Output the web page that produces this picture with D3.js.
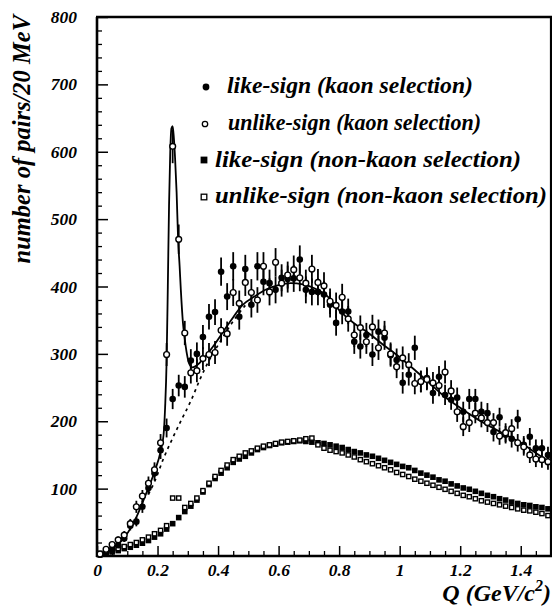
<!DOCTYPE html>
<html><head><meta charset="utf-8">
<script src="https://cdn.jsdelivr.net/npm/d3@7/dist/d3.min.js"></script>
<style>
html,body{margin:0;padding:0;background:#fff;}
</style></head>
<body>
<svg id="chart" width="552" height="607"></svg>
<script>
const FONT = "'Liberation Serif', 'Times New Roman', Times, 'DejaVu Serif', serif";
// ---- data ----
const qBins = [0.01,0.03,0.05,0.07,0.09,0.11,0.13,0.15,0.17,0.19,0.21,0.23,0.25,0.27,0.29,0.31,0.33,0.35,0.37,0.39,
0.41,0.43,0.45,0.47,0.49,0.51,0.53,0.55,0.57,0.59,0.61,0.63,0.65,0.67,0.69,0.71,0.73,0.75,0.77,0.79,
0.81,0.83,0.85,0.87,0.89,0.91,0.93,0.95,0.97,0.99,1.01,1.03,1.05,1.07,1.09,1.11,1.13,1.15,1.17,1.19,
1.21,1.23,1.25,1.27,1.29,1.31,1.33,1.35,1.37,1.39,1.41,1.43,1.45,1.47,1.49];

const likeKaon = [2,6,10,16,26,45,51,73,101,123,157,190,233,253,251,290,300,325,355,362,
422,385,430,355,426,373,430,407,405,395,413,411,412,440,395,392,392,388,373,346,
363,363,318,311,328,299,333,324,298,291,257,269,309,259,264,242,266,239,232,235,
214,233,233,214,212,184,206,180,174,203,165,177,160,160,150];
const likeKaonErr = [1,2,3,4,5,7,7,9,10,11,13,14,15,16,16,17,17,18,19,19,
21,20,21,19,21,19,21,20,20,20,20,20,20,21,20,20,20,20,19,19,
19,19,18,18,18,17,18,18,17,17,16,16,18,16,16,16,16,15,15,15,
15,15,15,15,15,14,14,13,13,14,13,13,13,13,12];

const unlikeKaon = [3,10,17,24,31,48,73,89,108,128,168,299,608,470,331,272,275,293,299,302,
335,330,391,375,406,391,380,430,392,436,405,417,425,413,405,426,406,401,378,372,
384,352,328,339,318,340,309,331,300,281,294,284,256,259,262,257,253,273,245,214,
192,198,212,205,198,198,178,183,189,168,162,150,144,143,140];
const unlikeKaonErr = [2,3,4,5,6,7,9,9,10,11,13,17,25,22,18,16,17,17,17,17,
18,18,20,19,20,20,19,21,20,21,20,20,21,20,20,21,20,20,19,19,
20,19,18,18,18,18,18,18,17,17,17,17,16,16,16,16,16,17,16,15,
14,14,15,14,14,14,13,14,14,13,13,12,12,12,12];

const likeNonKaon = [2,4,6,8,11,13,16,19,23,28,33,40,48,57,66,74,83,95,106,115,
123,131,139,144,148,153,158,161,164,166,168,169,170,171,170,169,168,167,165,163,
161,158,155,153,150,148,145,142,139,136,133,131,127,123,120,117,113,111,107,104,
101,99,96,93,90,88,85,83,80,78,76,75,73,72,70];

const unlikeNonKaon = [4,6,8,11,14,17,20,24,28,33,38,45,86,86,72,78,86,97,108,118,
127,135,143,148,153,156,160,163,165,167,169,170,171,172,174,175,165,160,157,155,
153,150,147,143,140,137,134,131,128,124,121,118,114,111,108,105,102,99,96,93,
90,88,85,82,80,78,76,74,72,70,68,67,65,63,60];

// fit curves
const fitQ = [0,0.04,0.08,0.12,0.16,0.19,0.21,0.22,0.225,0.23,0.234,0.238,0.242,0.246,0.25,0.254,0.258,0.263,0.268,0.273,
0.277,0.284,0.29,0.297,0.305,0.315,0.33,0.35,0.39,0.44,0.48,0.52,0.56,0.6,0.64,0.68,0.72,0.76,0.8,0.85,
0.9,0.95,1.0,1.05,1.1,1.15,1.2,1.25,1.3,1.35,1.4,1.45,1.5];
const fitVal = [0,8,22,48,90,125,155,180,220,290,400,520,600,635,638,620,590,540,470,430,
395,346,322,300,285,280,283,292,315,348,372,385,396,402,405,403,397,386,365,345,
330,312,295,276,256,236,220,205,192,180,168,153,138];
const bgQ = [0.17,0.19,0.22,0.25,0.28,0.31,0.34,0.37,0.40,0.43,0.46,0.49];
const bgVal = [92,110,145,175,203,230,262,290,313,335,355,372];

const xMajorTicks = [0,0.2,0.4,0.6,0.8,1,1.2,1.4];
const xTickLabels = ["0","0.2","0.4","0.6","0.8","1","1.2","1.4"];
const yMajorTicks = [100,200,300,400,500,600,700,800];
const yTickLabels = ["100","200","300","400","500","600","700","800"];

const legendLabels = ["like-sign (kaon selection)","unlike-sign (kaon selection)",
  "like-sign (non-kaon selection)","unlike-sign (non-kaon selection)"];

// ---- chart ----
const svg = d3.select("#chart");
const x = d3.scaleLinear().domain([0,1.5]).range([97,551]);
const y = d3.scaleLinear().domain([0,800]).range([556,17]);

const xMinor = d3.range(0.05,1.5,0.05).filter(v => Math.abs(v/0.2 - Math.round(v/0.2))>1e-6);
const yMinor = d3.range(20,800,20).filter(v => v%100!==0);

function styleText(sel, size){
  return sel.attr("font-family",FONT).attr("font-weight","bold").attr("font-style","italic")
     .attr("font-size",size).attr("fill","#000");
}

// minor ticks
svg.append("g").attr("transform","translate(0,556)")
  .call(d3.axisBottom(x).tickValues(xMinor).tickSize(-5).tickFormat(""))
  .call(g=>g.select(".domain").remove())
  .call(g=>g.selectAll("line").attr("stroke","#000").attr("stroke-width",1.3));
svg.append("g").attr("transform","translate(97,0)")
  .call(d3.axisLeft(y).tickValues(yMinor).tickSize(-5).tickFormat(""))
  .call(g=>g.select(".domain").remove())
  .call(g=>g.selectAll("line").attr("stroke","#000").attr("stroke-width",1.3));
// major ticks
svg.append("g").attr("transform","translate(0,556)")
  .call(d3.axisBottom(x).tickValues(xMajorTicks).tickSize(-10).tickPadding(8)
    .tickFormat((d,i)=>xTickLabels[i]))
  .call(g=>g.select(".domain").remove())
  .call(g=>g.selectAll("line").attr("stroke","#000").attr("stroke-width",1.5))
  .call(g=>styleText(g.selectAll("text"),17.5));
svg.append("g").attr("transform","translate(97,0)")
  .call(d3.axisLeft(y).tickValues(yMajorTicks).tickSize(-11).tickPadding(20)
    .tickFormat((d,i)=>yTickLabels[i]))
  .call(g=>g.select(".domain").remove())
  .call(g=>g.selectAll("line").attr("stroke","#000").attr("stroke-width",1.5))
  .call(g=>styleText(g.selectAll("text"),17.5));

// frame
const frame = svg.append("g").attr("stroke","#000").attr("fill","none");
frame.append("line").attr("x1",97).attr("x2",97).attr("y1",17).attr("y2",557).attr("stroke-width",2.6);
frame.append("line").attr("x1",96).attr("x2",552).attr("y1",556).attr("y2",556).attr("stroke-width",2.6);
frame.append("line").attr("x1",96).attr("x2",552).attr("y1",17).attr("y2",17).attr("stroke-width",2.6);
frame.append("line").attr("x1",551).attr("x2",551).attr("y1",17).attr("y2",557).attr("stroke-width",2.2);

// fit curves
const fitPts = fitQ.map((q,i)=>[q,fitVal[i]]);
const bgPts = bgQ.map((q,i)=>[q,bgVal[i]]);
const lineGen = d3.line().x(d=>x(d[0])).y(d=>y(d[1])).curve(d3.curveMonotoneX);
svg.append("path").datum(bgPts).attr("d",lineGen)
  .attr("fill","none").attr("stroke","#000").attr("stroke-width",1.7).attr("stroke-dasharray","3,4");
svg.append("path").datum(fitPts).attr("d",lineGen)
  .attr("fill","none").attr("stroke","#000").attr("stroke-width",1.8);

// non-kaon squares
const sq = 5.6;
svg.append("g").selectAll("rect").data(qBins.map((q,i)=>[q,likeNonKaon[i]])).join("rect")
  .attr("x",d=>x(d[0])-sq/2).attr("y",d=>y(d[1])-sq/2).attr("width",sq).attr("height",sq).attr("fill","#000");
svg.append("g").selectAll("rect").data(qBins.map((q,i)=>[q,unlikeNonKaon[i]])).join("rect")
  .attr("x",d=>x(d[0])-sq/2+0.7).attr("y",d=>y(d[1])-sq/2+0.7).attr("width",sq-1.4).attr("height",sq-1.4)
  .attr("fill","#fff").attr("stroke","#000").attr("stroke-width",1.4);

// kaon error bars
function errBars(vals, errs){
  svg.append("g").selectAll("line").data(qBins.map((q,i)=>[q,vals[i],errs[i]])).join("line")
    .attr("x1",d=>x(d[0])).attr("x2",d=>x(d[0]))
    .attr("y1",d=>y(d[1]-d[2])).attr("y2",d=>y(Math.min(800,d[1]+d[2])))
    .attr("stroke","#000").attr("stroke-width",1.8);
}
errBars(likeKaon, likeKaonErr);
errBars(unlikeKaon, unlikeKaonErr);

svg.append("g").selectAll("circle").data(qBins.map((q,i)=>[q,likeKaon[i]])).join("circle")
  .attr("cx",d=>x(d[0])).attr("cy",d=>y(d[1])).attr("r",3.3).attr("fill","#000");
svg.append("g").selectAll("circle").data(qBins.map((q,i)=>[q,unlikeKaon[i]])).join("circle")
  .attr("cx",d=>x(d[0])).attr("cy",d=>y(d[1])).attr("r",2.9).attr("fill","#fff")
  .attr("stroke","#000").attr("stroke-width",1.4);

// legend
const leg = svg.append("g");
const legRows = [
  {ty:93, tx:227, w:246, mx:206, my:87, type:"fc"},
  {ty:130, tx:228, w:253, mx:205, my:124, type:"oc"},
  {ty:167, tx:215, w:306, mx:204, my:160, type:"fs"},
  {ty:203, tx:215, w:332, mx:204, my:197, type:"os"}];
legRows.forEach((r,i)=>{
  if(r.type==="fc") leg.append("circle").attr("cx",r.mx).attr("cy",r.my).attr("r",3.4).attr("fill","#000");
  if(r.type==="oc") leg.append("circle").attr("cx",r.mx).attr("cy",r.my).attr("r",2.7).attr("fill","#fff").attr("stroke","#000").attr("stroke-width",1.3);
  if(r.type==="fs") leg.append("rect").attr("x",r.mx-3.4).attr("y",r.my-3.4).attr("width",6.8).attr("height",6.8).attr("fill","#000");
  if(r.type==="os") leg.append("rect").attr("x",r.mx-2.8).attr("y",r.my-2.8).attr("width",5.6).attr("height",5.6).attr("fill","#fff").attr("stroke","#000").attr("stroke-width",1.3);
  styleText(leg.append("text").attr("x",r.tx).attr("y",r.ty).text(legendLabels[i]), 24)
    .attr("textLength",r.w).attr("lengthAdjust","spacingAndGlyphs");
});

// axis titles
styleText(svg.append("text").attr("transform","translate(30,15) rotate(-90)").attr("text-anchor","end")
  .text("number of pairs/20 MeV"), 24.5);
const xt = svg.append("text").attr("x",551).attr("y",601).attr("text-anchor","end");
styleText(xt, 24);
xt.append("tspan").text("Q (GeV/c");
xt.append("tspan").attr("font-size",16).attr("dy",-10).text("2");
xt.append("tspan").attr("dy",10).text(")");
</script>
</body></html>
